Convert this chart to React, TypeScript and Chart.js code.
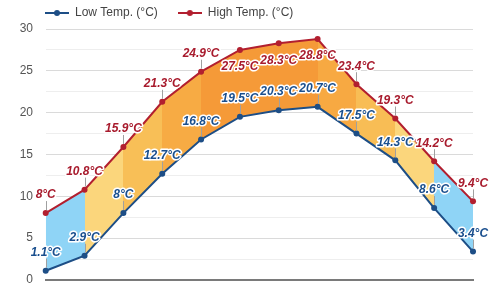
import React, { useEffect, useRef } from "react";
import { Chart, registerables } from "chart.js";

Chart.register(...registerables);

const months = ["Jan", "Feb", "Mar", "Apr", "May", "Jun", "Jul", "Aug", "Sep", "Oct", "Nov", "Dec"];
const lowTemps = [1.1, 2.9, 8, 12.7, 16.8, 19.5, 20.3, 20.7, 17.5, 14.3, 8.6, 3.4];
const highTemps = [8, 10.8, 15.9, 21.3, 24.9, 27.5, 28.3, 28.8, 23.4, 19.3, 14.2, 9.4];
const seriesNames = ["Low Temp. (°C)", "High Temp. (°C)"];
// fill colour of each month-to-month band
const bandColors = [
  "#8fd4f6", "#fbd67c", "#f8bf57", "#f7ab44", "#f59a38", "#f59a38",
  "#f59a38", "#f7a942", "#f8bd55", "#fbd67c", "#8fd4f6",
];

const LOW_COLOR = "#1d4e86";
const HIGH_COLOR = "#b21f2f";
const FONT = "'Liberation Sans', Arial, sans-serif";

function makeIcon(color: string) {
  const c = document.createElement("canvas");
  c.width = 24;
  c.height = 8;
  const g = c.getContext("2d")!;
  g.strokeStyle = color;
  g.lineWidth = 2;
  g.beginPath();
  g.moveTo(0, 4);
  g.lineTo(24, 4);
  g.stroke();
  g.fillStyle = color;
  g.beginPath();
  g.arc(12, 4, 3, 0, Math.PI * 2);
  g.fill();
  return c;
}

const labelPlugin = {
  id: "tempLabels",
  afterDatasetsDraw(chart: any) {
    const ctx = chart.ctx as CanvasRenderingContext2D;
    chart.data.datasets.forEach((ds: any, di: number) => {
      const meta = chart.getDatasetMeta(di);
      const color = di === 0 ? "#1a4f8e" : "#a81b2d";
      meta.data.forEach((pt: any, i: number) => {
        const v = ds.data[i];
        const below = di === 1 && v > 27;
        const ty = below ? pt.y + 17 : pt.y - 18;
        ctx.save();
        if (!below) {
          ctx.strokeStyle = "#a0a0a0";
          ctx.lineWidth = 1;
          ctx.beginPath();
          ctx.moveTo(Math.round(pt.x) + 0.5, ty + 6);
          ctx.lineTo(Math.round(pt.x) + 0.5, pt.y - 3);
          ctx.stroke();
        }
        ctx.font = "italic bold 12px " + FONT;
        ctx.textAlign = "center";
        ctx.textBaseline = "middle";
        ctx.lineJoin = "round";
        ctx.lineWidth = 3;
        ctx.strokeStyle = "#ffffff";
        const text = v + "°C";
        ctx.strokeText(text, pt.x, ty);
        ctx.fillStyle = color;
        ctx.fillText(text, pt.x, ty);
        ctx.restore();
      });
    });
  },
};

function bandFill(context: any) {
  const chart = context.chart;
  const area = chart.chartArea;
  if (!area) return bandColors[4];
  const g = chart.ctx.createLinearGradient(area.left, 0, area.right, 0);
  const n = bandColors.length;
  bandColors.forEach((c, i) => {
    g.addColorStop(i / n, c);
    g.addColorStop(Math.min(1, (i + 1) / n - 0.0001), c);
  });
  return g;
}

export default function App() {
  const ref = useRef<HTMLCanvasElement>(null);
  useEffect(() => {
    if (!ref.current) return;
    const icons = [makeIcon(LOW_COLOR), makeIcon(HIGH_COLOR)];
    const chart = new Chart(ref.current, {
      type: "line",
      data: {
        labels: months,
        datasets: [
          {
            label: seriesNames[0],
            data: lowTemps,
            borderColor: LOW_COLOR,
            backgroundColor: LOW_COLOR,
            pointBackgroundColor: LOW_COLOR,
            pointBorderColor: LOW_COLOR,
            borderWidth: 2,
            pointRadius: 3,
            pointBorderWidth: 0,
            tension: 0,
            fill: false,
          },
          {
            label: seriesNames[1],
            data: highTemps,
            borderColor: HIGH_COLOR,
            backgroundColor: bandFill,
            pointBackgroundColor: HIGH_COLOR,
            pointBorderColor: HIGH_COLOR,
            borderWidth: 2,
            pointRadius: 3,
            pointBorderWidth: 0,
            tension: 0,
            fill: "-1",
          },
        ],
      },
      options: {
        responsive: false,
        animation: false,
        layout: { padding: { top: -13, left: 25, right: 27, bottom: 0 } },
        plugins: {
          tooltip: { enabled: false },
          legend: {
            align: "start",
            labels: {
              usePointStyle: true,
              pointStyleWidth: 24,
              padding: 20,
              color: "#444",
              font: { size: 12, family: FONT },
              generateLabels: (c: any) =>
                (Chart.defaults.plugins.legend.labels as any)
                  .generateLabels(c)
                  .map((it: any, i: number) => ({ ...it, pointStyle: icons[i] })),
            },
          },
        },
        scales: {
          x: {
            offset: false,
            grid: { display: false },
            ticks: { display: false },
            border: { display: true, color: "#7a7a7a", width: 2 },
            afterFit: (s: any) => {
              s.height = 20;
            },
          },
          y: {
            min: 0,
            max: 30,
            border: { display: false },
            grid: {
              drawTicks: false,
              color: (ctx: any) => (ctx.tick && ctx.tick.value % 5 === 0 ? "#dadada" : "#eeeeee"),
            },
            ticks: {
              stepSize: 2.5,
              mirror: true,
              crossAlign: "far",
              padding: -26,
              color: "#555",
              font: { size: 12, family: FONT },
              callback: (v: any) => (Number(v) % 5 === 0 ? String(v) : ""),
            },
            afterFit: (s: any) => {
              s.width = 20.7;
            },
          },
        },
      },
      plugins: [labelPlugin],
    } as any);
    return () => chart.destroy();
  }, []);
  return (
    <div style={{ position: "absolute", left: 0, top: 0, width: 500, height: 300, background: "#fff" }}>
      <canvas ref={ref} width={500} height={300} />
    </div>
  );
}
